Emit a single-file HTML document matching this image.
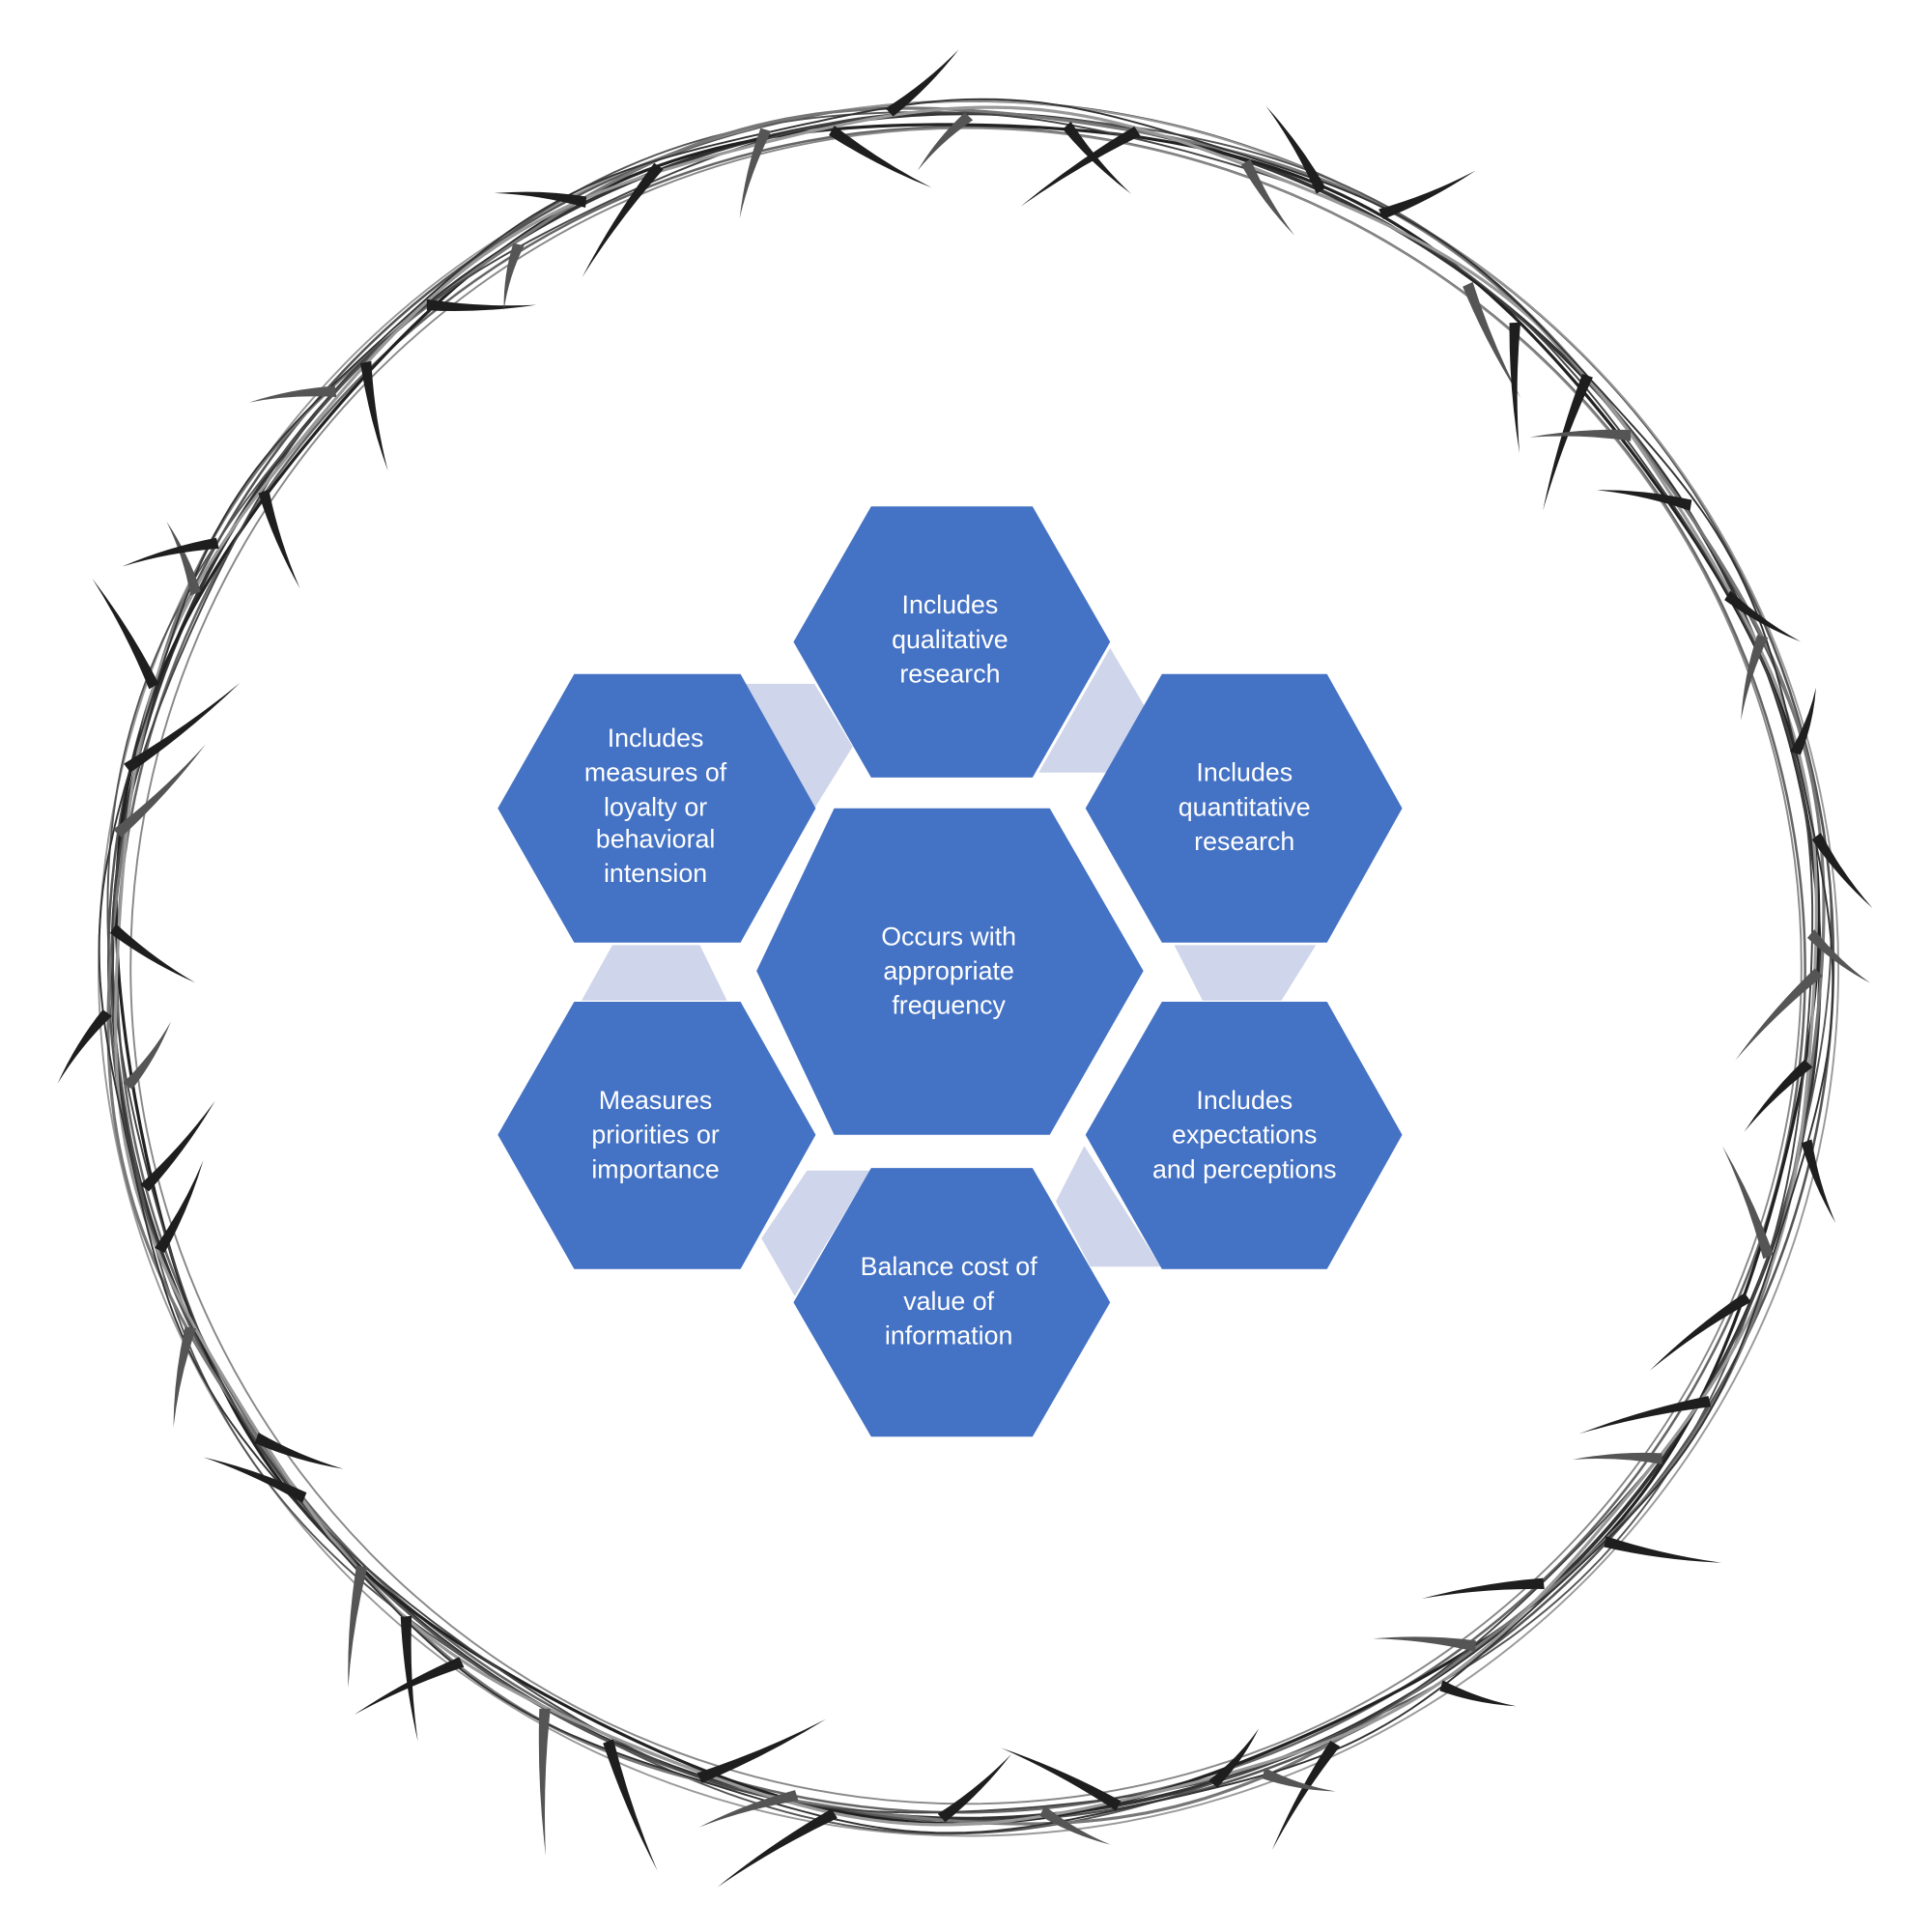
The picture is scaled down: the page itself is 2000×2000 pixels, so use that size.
<!DOCTYPE html>
<html><head><meta charset="utf-8"><style>
html,body{margin:0;padding:0;background:#fff;}
svg{display:block}
text{font-family:"Liberation Sans","DejaVu Sans",sans-serif;font-size:21px;fill:#fff;text-anchor:middle}
</style></head><body>
<svg id="s" width="2000" height="2000" viewBox="0 0 1568 1568" xmlns="http://www.w3.org/2000/svg">
<g id="ring" fill="none">
<ellipse cx="784" cy="784" rx="693" ry="692" stroke="#333" stroke-width="3"/>
<ellipse cx="780" cy="787" rx="685" ry="684" stroke="#666" stroke-width="2"/>
<ellipse cx="788" cy="780" rx="700" ry="698" stroke="#555" stroke-width="2"/>
<ellipse cx="784" cy="784" rx="678" ry="680" stroke="#888" stroke-width="1.5"/>
<ellipse cx="786" cy="786" rx="706" ry="704" stroke="#999" stroke-width="1.5"/>
</g>
<g id="strands" fill="none"></g>
<g id="thorns"></g>
<g fill="#cfd5ea">
<polygon points="605,555 661,555 692,606 661,656"/>
<polygon points="901,526 930,575 902,627 843,627"/>
<polygon points="953,767 1068,767 1040,812 976,812"/>
<polygon points="497,767 568,767 590,812 472,812"/>
<polygon points="655,950 706,950 645,1052 618,1005"/>
<polygon points="880,930 942,1028 885,1028 857,975"/>
</g>
<g fill="#4472c4">
<polygon points="707,411 838,411 901,521 838,631 707,631 644,521"/>
<polygon points="466,547 601,547 662,656 601,765 466,765 404,656"/>
<polygon points="943,547 1077,547 1138,656 1077,765 943,765 881,656"/>
<polygon points="677,656 852,656 928,788 852,921 677,921 614,788"/>
<polygon points="466,813 601,813 662,921 601,1030 466,1030 404,921"/>
<polygon points="943,813 1077,813 1138,921 1077,1030 943,1030 881,921"/>
<polygon points="707,948 838,948 901,1057 838,1166 707,1166 644,1057"/>
</g>
<text x="771" y="498">Includes</text><text x="771" y="526">qualitative</text><text x="771" y="554">research</text>
<text x="532" y="606">Includes</text><text x="532" y="634">measures of</text><text x="532" y="662">loyalty or</text><text x="532" y="688">behavioral</text><text x="532" y="716">intension</text>
<text x="1010" y="634">Includes</text><text x="1010" y="662">quantitative</text><text x="1010" y="690">research</text>
<text x="770" y="767">Occurs with</text><text x="770" y="795">appropriate</text><text x="770" y="823">frequency</text>
<text x="532" y="900">Measures</text><text x="532" y="928">priorities or</text><text x="532" y="956">importance</text>
<text x="1010" y="900">Includes</text><text x="1010" y="928">expectations</text><text x="1010" y="956">and perceptions</text>
<text x="770" y="1035">Balance cost of</text><text x="770" y="1063">value of</text><text x="770" y="1091">information</text>
</svg>
<script>
(function(){
var ns='http://www.w3.org/2000/svg',cx=784,cy=784,R=693;
var seed=7;function rnd(){seed=(seed*9301+49297)%233280;return seed/233280;}
var sg=document.getElementById('strands');
for(var k=0;k<6;k++){
 var d='',ph=rnd()*6,amp=4+rnd()*5,f=7+Math.floor(rnd()*6),off=(rnd()-0.5)*14;
 for(var j=0;j<=360;j++){var a=j/360*Math.PI*2;var r=R+off+amp*Math.sin(f*a+ph);
  d+=(j?'L':'M')+(cx+r*Math.cos(a)).toFixed(1)+' '+(cy+r*Math.sin(a)).toFixed(1);}
 var p=document.createElementNS(ns,'path');p.setAttribute('d',d);
 p.setAttribute('stroke',['#222','#555','#777','#444','#999','#333'][k]);p.setAttribute('stroke-width',k%2?1.5:2.5);
 sg.appendChild(p);
}
var g=document.getElementById('thorns');
for(var i=0;i<64;i++){
 var a=i/64*Math.PI*2+rnd()*0.06;
 var r=R+(rnd()-0.5)*14;
 var px=cx+r*Math.cos(a),py=cy+r*Math.sin(a);
 var out=rnd()<0.55?1:-1;
 var dir=a+(rnd()<0.5?1:-1)*Math.PI/2+out*(0.5+rnd()*0.6)*(rnd()<0.5?1:-1);
 var len=55+rnd()*65;
 var tx=px+len*Math.cos(dir),ty=py+len*Math.sin(dir);
 var nx=-Math.sin(dir)*4.5,ny=Math.cos(dir)*4.5;
 var mx=(px+tx)/2+nx*1.5,my=(py+ty)/2+ny*1.5;
 var p=document.createElementNS(ns,'path');
 p.setAttribute('d','M'+(px+nx)+' '+(py+ny)+' Q'+mx+' '+my+' '+tx+' '+ty+' Q'+(mx-nx)+' '+(my-ny)+' '+(px-nx)+' '+(py-ny)+'Z');
 p.setAttribute('fill',i%3==0?'#555':'#1e1e1e');
 g.appendChild(p);
}
})();
</script>
</body></html>
